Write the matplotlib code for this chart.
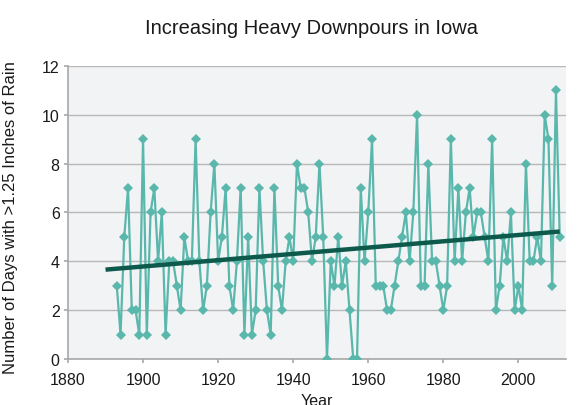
import matplotlib
matplotlib.use("Agg")
import matplotlib.pyplot as plt

# Days per year with more than 1.25 inches of rain
years = list(range(1893, 2012))
days = [
    3, 1, 5, 7, 2, 2, 1, 9, 1, 6,      # 1893-1902
    7, 4, 6, 1, 4, 4, 3, 2, 5, 4,      # 1903-1912
    4, 9, 4, 2, 3, 6, 8, 4, 5, 7,      # 1913-1922
    3, 2, 4, 7, 1, 5, 1, 2, 7, 4,      # 1923-1932
    2, 1, 7, 3, 2, 4, 5, 4, 8, 7,      # 1933-1942
    7, 6, 4, 5, 8, 5, 0, 4, 3, 5,      # 1943-1952
    3, 4, 2, 0, 0, 7, 4, 6, 9, 3,      # 1953-1962
    3, 3, 2, 2, 3, 4, 5, 6, 4, 6,      # 1963-1972
    10, 3, 3, 8, 4, 4, 3, 2, 3, 9,     # 1973-1982
    4, 7, 4, 6, 7, 5, 6, 6, 5, 4,      # 1983-1992
    9, 2, 3, 5, 4, 6, 2, 3, 2, 8,      # 1993-2002
    4, 4, 5, 4, 10, 9, 3, 11, 5,       # 2003-2011
]

# Trend line end points
trend_years = [1890, 2011]
trend_days = [3.66, 5.22]

x_ticks = [1880, 1900, 1920, 1940, 1960, 1980, 2000]
y_ticks = [0, 2, 4, 6, 8, 10, 12]

plt.rcParams['font.family'] = ['Liberation Sans', 'DejaVu Sans']

fig = plt.figure(figsize=(5.83, 4.06), dpi=100)
ax = fig.add_axes([0.1166, 0.1133, 0.8544, 0.7217])
ax.set_facecolor('#f2f3f5')

ax.plot(years, days, color='#5ab7ac', lw=1.6, marker='D', markersize=4.8,
        markeredgewidth=0, zorder=3)
ax.plot(trend_years, trend_days, color='#0d5a4d', lw=3.2,
        solid_capstyle='butt', zorder=4)

ax.set_xlim(1880, 2012.7)
ax.set_ylim(0, 12)
ax.set_xticks(x_ticks)
ax.set_yticks(y_ticks)
ax.yaxis.grid(True, color='#b8b8b8', lw=1)
ax.set_axisbelow(True)

for side in ['top', 'right']:
    ax.spines[side].set_visible(False)
for side in ['left', 'bottom']:
    ax.spines[side].set_color('#a8a8a8')
    ax.spines[side].set_linewidth(1.2)
ax.tick_params(colors='#a8a8a8', labelcolor='#1a1a1a', labelsize=11.5,
               length=3, width=1.2)
ax.tick_params(axis='x', pad=6.5)
ax.tick_params(axis='y', pad=3)

ax.set_xlabel('Year', fontsize=11.5, color='#1a1a1a', labelpad=4)
ax.set_ylabel('Number of Days with >1.25 Inches of Rain', fontsize=12,
              color='#1a1a1a')
ax.yaxis.set_label_coords(-0.1, 0.486)
fig.text(0.535, 0.93, 'Increasing Heavy Downpours in Iowa', ha='center',
         va='center', fontsize=14.5, color='#1a1a1a')

fig.savefig('out.png', dpi=100)
